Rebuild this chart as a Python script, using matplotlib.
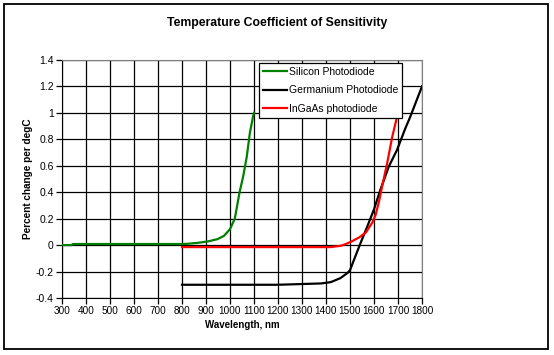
import matplotlib
matplotlib.use("Agg")
import matplotlib.pyplot as plt
from matplotlib.patches import Rectangle

plt.rcParams['font.family'] = ['Liberation Sans', 'DejaVu Sans']

si_x = [300, 340, 345, 500, 700, 800, 823, 865, 906, 948, 975, 1000, 1020, 1040, 1055, 1070, 1083, 1097, 1100]
si_y = [0.0, 0.0, 0.008, 0.008, 0.008, 0.008, 0.01, 0.017, 0.027, 0.045, 0.07, 0.12, 0.2, 0.4, 0.52, 0.67, 0.85, 0.98, 1.0]

ge_x = [800, 1000, 1200, 1380, 1420, 1460, 1490, 1500, 1518, 1545, 1573, 1600, 1627, 1662, 1696, 1730, 1751, 1800]
ge_y = [-0.3, -0.3, -0.3, -0.29, -0.28, -0.25, -0.21, -0.19, -0.105, 0.02, 0.145, 0.27, 0.42, 0.595, 0.72, 0.88, 0.97, 1.2]

ig_x = [800, 1000, 1200, 1419, 1463, 1482, 1504, 1538, 1566, 1593, 1607, 1621, 1634, 1655, 1675, 1696, 1700]
ig_y = [-0.015, -0.015, -0.015, -0.015, -0.005, 0.008, 0.025, 0.058, 0.095, 0.17, 0.23, 0.33, 0.445, 0.62, 0.81, 0.97, 1.0]

x_ticks = list(range(300, 1801, 100))
y_ticks = [-0.4, -0.2, 0, 0.2, 0.4, 0.6, 0.8, 1, 1.2, 1.4]
y_labels = ['-0.4', '-0.2', '0', '0.2', '0.4', '0.6', '0.8', '1', '1.2', '1.4']

fig = plt.figure(figsize=(5.54, 3.55), dpi=100)
fig.patches.append(Rectangle((4 / 554, 6 / 355), 544 / 554, 345 / 355, transform=fig.transFigure,
                             fill=False, edgecolor='black', linewidth=1.3))
ax = fig.add_axes([0.1119, 0.1606, 0.6498, 0.6704])

ax.plot(si_x, si_y, color='#008000', lw=1.6, label='Silicon Photodiode', zorder=3)
ax.plot(ge_x, ge_y, color='black', lw=1.6, label='Germanium Photodiode', zorder=3)
ax.plot(ig_x, ig_y, color='#ff0000', lw=1.6, label='InGaAs photodiode', zorder=3)

ax.set_xlim(300, 1800)
ax.set_ylim(-0.4, 1.4)
ax.set_xticks(x_ticks)
ax.set_xticklabels([str(v) for v in x_ticks], fontsize=7.2)
ax.set_yticks(y_ticks)
ax.set_yticklabels(y_labels, fontsize=7.5)
ax.grid(True, color='black', lw=0.9)
ax.set_axisbelow(True)
ax.tick_params(direction='out', length=4, width=0.9, pad=2)
for s in ['top', 'right']:
    ax.spines[s].set_color('#808080')
for s in ['left', 'bottom']:
    ax.spines[s].set_color('black')

ax.set_xlabel('Wavelength, nm', fontsize=7.0, fontweight='bold', labelpad=3)
ax.set_ylabel('Percent change per degC', fontsize=7.2, fontweight='bold', labelpad=2)
fig.text(0.5, 0.936, 'Temperature Coefficient of Sensitivity', ha='center', va='center',
         fontsize=8.8, fontweight='bold')

leg = ax.legend(loc='upper left', bbox_to_anchor=(0.547, 0.988), fontsize=7.5, frameon=True,
                fancybox=False, edgecolor='black', framealpha=1, borderpad=0.4,
                handlelength=2.3, handletextpad=0.15, labelspacing=0.8, borderaxespad=0)
leg.get_frame().set_linewidth(0.9)

fig.savefig('out.png', dpi=100)
